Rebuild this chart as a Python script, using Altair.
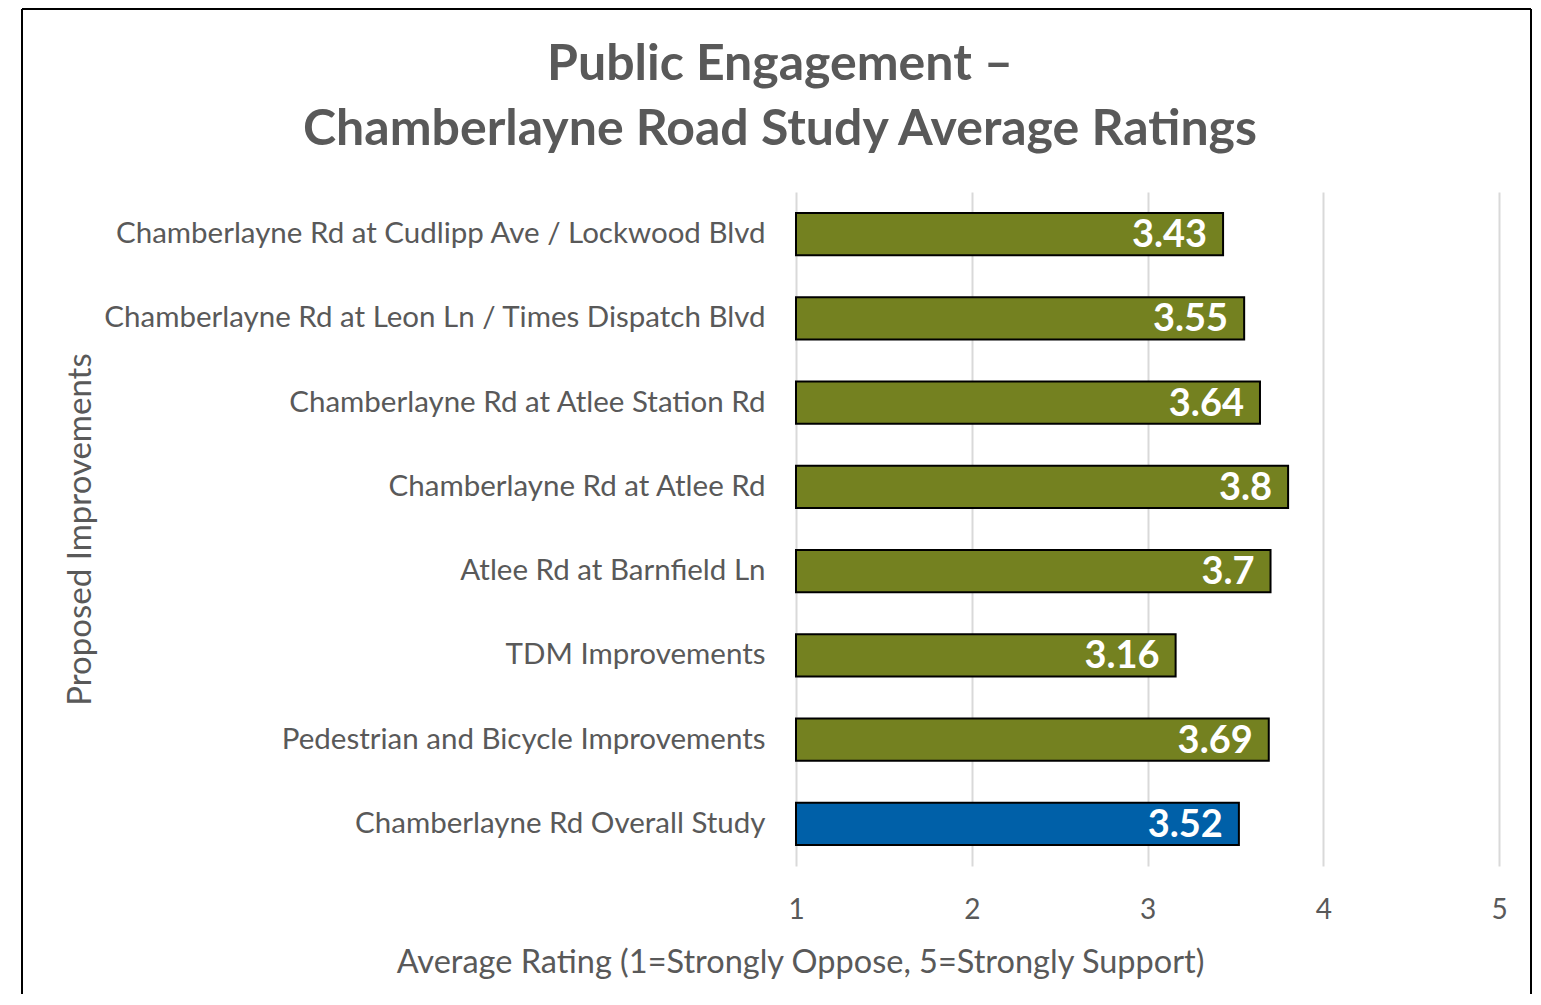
import altair as alt
import pandas as pd

title_lines = ["Public Engagement –", "Chamberlayne Road Study Average Ratings"]
categories = [
    "Chamberlayne Rd at Cudlipp Ave / Lockwood Blvd",
    "Chamberlayne Rd at Leon Ln / Times Dispatch Blvd",
    "Chamberlayne Rd at Atlee Station Rd",
    "Chamberlayne Rd at Atlee Rd",
    "Atlee Rd at Barnfield Ln",
    "TDM Improvements",
    "Pedestrian and Bicycle Improvements",
    "Chamberlayne Rd Overall Study",
]
values = [3.43, 3.55, 3.64, 3.8, 3.7, 3.16, 3.69, 3.52]
labels = ["3.43", "3.55", "3.64", "3.8", "3.7", "3.16", "3.69", "3.52"]
groups = ["item"] * 7 + ["overall"]
x_ticks = [1, 2, 3, 4, 5]

df = pd.DataFrame({"cat": categories, "value": values, "label": labels, "group": groups})

FONT = "Lato"
GRAY = "#595959"

y_enc = alt.Y(
    "cat:N",
    sort=categories,
    scale=alt.Scale(paddingInner=0.5, paddingOuter=0.25),
    axis=alt.Axis(
        title="Proposed Improvements",
        titleFont=FONT, titleFontSize=33, titleFontWeight="normal", titleColor=GRAY,
        titleX=-716, titleY=337, titleAngle=-90, titleAlign="center", titleBaseline="middle",
        labelFont=FONT, labelFontSize=29.5, labelColor=GRAY, labelPadding=31,
        labelLimit=800, ticks=False, domain=False, grid=False,
    ),
)

x_scale = alt.Scale(domain=[1, 5], zero=False, nice=False)

bars = alt.Chart(df).mark_bar(stroke="black", strokeWidth=2).encode(
    x=alt.X(
        "value:Q",
        scale=x_scale,
        axis=alt.Axis(
            values=x_ticks, format="d",
            title="Average Rating (1=Strongly Oppose, 5=Strongly Support)",
            titleFont=FONT, titleFontSize=32.5, titleFontWeight="normal", titleColor=GRAY,
            titleX=4, titleY=106, titleAlign="center", titleBaseline="alphabetic",
            labelFont=FONT, labelFontSize=28, labelColor=GRAY, labelPadding=30,
            labelFlush=False,
            ticks=False, domain=False, grid=True, gridColor="#d9d9d9", gridWidth=2,
        ),
    ),
    x2=alt.datum(1),
    y=y_enc,
    color=alt.Color(
        "group:N",
        scale=alt.Scale(domain=["item", "overall"], range=["#748120", "#0060a8"]),
        legend=None,
    ),
)

text = alt.Chart(df).mark_text(
    align="right", baseline="middle", dx=-16, dy=2,
    font=FONT, fontSize=38, fontWeight="bold", color="white",
).encode(
    x=alt.X("value:Q", scale=x_scale),
    y=alt.Y("cat:N", sort=categories),
    text="label:N",
)

one = pd.DataFrame({"a": [0]})
title1 = alt.Chart(one).mark_text(
    align="center", baseline="alphabetic", font=FONT, fontSize=50, fontWeight="bold", color=GRAY
).encode(x=alt.value(-16), y=alt.value(-112), text=alt.value(title_lines[0]))
title2 = alt.Chart(one).mark_text(
    align="center", baseline="alphabetic", font=FONT, fontSize=50, fontWeight="bold", color=GRAY
).encode(x=alt.value(-16), y=alt.value(-47), text=alt.value(title_lines[1]))

left_rule = alt.Chart(one).mark_rule(color="black", strokeWidth=2).encode(
    x=alt.value(-774), y=alt.value(-183), y2=alt.value(830)
)
right_rule = alt.Chart(one).mark_rule(color="black", strokeWidth=2).encode(
    x=alt.value(735), y=alt.value(-183), y2=alt.value(830)
)
top_rule = alt.Chart(one).mark_rule(color="black", strokeWidth=2).encode(
    x=alt.value(-774), x2=alt.value(735), y=alt.value(-183)
)

chart = alt.layer(bars, text, title1, title2, left_rule, right_rule, top_rule).properties(
    width=703,
    height=674,
    autosize=alt.AutoSizeParams(type="none"),
    padding={"left": 788, "top": 184, "right": 33, "bottom": 128},
).configure_view(stroke=None)

chart.save("out.html", embed_options={"renderer": "svg", "actions": False})
